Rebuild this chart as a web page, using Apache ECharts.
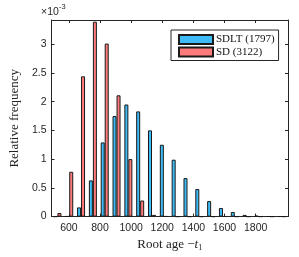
<!DOCTYPE html>
<html>
<head>
<meta charset="utf-8">
<script src="https://cdn.jsdelivr.net/npm/echarts@6/dist/echarts.min.js"></script>
<style>html,body{margin:0;padding:0;background:#fff}#c{width:299px;height:257px}</style>
</head>
<body>
<div id="c"></div>
<script>
// Bin centers (Root age -t1)
var binCenters = [526,602,678,754,830,906,982,1058,1134,1210,1286,1362,1438,1514,1590,1666,1742,1818,1894,1970];
// Relative frequency, in units of 1e-3
var sdltValues = [0,0.005,0.16,0.63,1.29,1.75,1.95,1.83,1.50,1.25,0.99,0.67,0.48,0.27,0.15,0.08,0.03,0.015,0.004,0.002];
var sdValues   = [0.063,0.78,2.44,3.39,3.01,2.11,1.00,0.28,0.03,0.005,0,0,0,0,0.003,0,0,0,0,0];
var seriesNames = ['SDLT (1797)','SD (3122)'];
var xTicks = [600,800,1000,1200,1400,1600,1800];
var yTicks = [0,0.5,1,1.5,2,2.5,3];
var xMin = 488, xMax = 2008, yMin = 0, yMax = 3.42;

var axisCol = '#262626';
var chart = echarts.init(document.getElementById('c'), null, {renderer:'canvas'});
var tickStyle = {show:true, inside:true, length:3, lineStyle:{color:axisCol, width:1}};
chart.setOption({
  animation:false,
  grid:{left:40, right:11, top:20, bottom:36, containLabel:false},
  legend:{
    orient:'vertical', left:171, top:30, padding:[4,4,3,7],
    itemWidth:34, itemHeight:9, itemGap:1.5,
    borderColor:axisCol, borderWidth:1, backgroundColor:'#fff',
    icon:'rect',
    textStyle:{fontFamily:'Liberation Serif', fontSize:11, color:'#111', lineHeight:11, padding:[0,0,0,-2]},
    data:seriesNames
  },
  xAxis:[
    {type:'category', data:binCenters, show:false, boundaryGap:true},
    {type:'value', position:'bottom', min:xMin, max:xMax,
     axisLine:{show:true, onZero:false, lineStyle:{color:axisCol}},
     axisTick:Object.assign({customValues:xTicks}, tickStyle),
     axisLabel:{customValues:xTicks, color:axisCol, fontFamily:'Liberation Sans', fontSize:10.5, margin:6,
       formatter:function(v){return String(v);}},
     splitLine:{show:false},
     name:'{a|Root age \u2212}{t|t}{s|1}', nameLocation:'middle', nameGap:15,
     nameTextStyle:{verticalAlign:'top', rich:{
       a:{fontFamily:'Liberation Serif', fontSize:13, color:'#222'},
       t:{fontFamily:'Liberation Serif', fontStyle:'italic', fontSize:13, color:'#222'},
       s:{fontFamily:'Liberation Serif', fontSize:8, color:'#222', padding:[6,0,0,0]}
     }}},
    {type:'value', position:'top', min:xMin, max:xMax,
     axisLine:{show:true, onZero:false, lineStyle:{color:axisCol}},
     axisTick:Object.assign({customValues:xTicks}, tickStyle),
     axisLabel:{show:false}, splitLine:{show:false}}
  ],
  yAxis:[
    {type:'value', position:'left', min:yMin, max:yMax,
     axisLine:{show:true, onZero:false, lineStyle:{color:axisCol}},
     axisTick:Object.assign({customValues:yTicks}, tickStyle),
     axisLabel:{customValues:yTicks, color:axisCol, fontFamily:'Liberation Sans', fontSize:10.5, margin:5},
     splitLine:{show:false},
     name:'Relative frequency', nameLocation:'middle', nameGap:23,
     nameTextStyle:{fontFamily:'Liberation Serif', fontSize:13, color:'#222'}},
    {type:'value', position:'right', min:yMin, max:yMax,
     axisLine:{show:true, onZero:false, lineStyle:{color:axisCol}},
     axisTick:Object.assign({customValues:yTicks}, tickStyle),
     axisLabel:{show:false}, splitLine:{show:false}}
  ],
  graphic:[
    {type:'text', left:41, top:7, style:{text:'\u00d710', font:'10.5px "Liberation Sans"', fill:axisCol}},
    {type:'text', left:59, top:3, style:{text:'-3', font:'7.5px "Liberation Sans"', fill:axisCol}}
  ],
  series:[
    {name:seriesNames[0], type:'bar', xAxisIndex:0, yAxisIndex:0, data:sdltValues,
     barWidth:4, barGap:'0%',
     itemStyle:{color:'#3dbcf7', borderColor:'#1a1a1a', borderWidth:1}},
    {name:seriesNames[1], type:'bar', xAxisIndex:0, yAxisIndex:0, data:sdValues,
     barWidth:4, barGap:'0%',
     itemStyle:{color:'#ff7b7b', borderColor:'#1a1a1a', borderWidth:1}}
  ]
});
</script>
</body>
</html>
